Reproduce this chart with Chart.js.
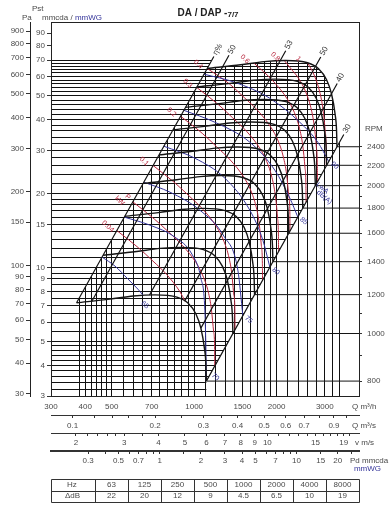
<!DOCTYPE html>
<html>
<head>
<meta charset="utf-8">
<script src="https://cdn.jsdelivr.net/npm/chart.js@4.4.1/dist/chart.umd.min.js"></script>
<style>
html,body{margin:0;padding:0;background:#fff;overflow:hidden;}
canvas{display:block;}
</style>
</head>
<body>
<canvas id="chart" width="391" height="515"></canvas>
<script>
// ================= DATA =================
// Axis tick values
const mmTicks = [3,4,5,6,7,8,9,10,15,20,30,40,50,60,70,80,90];
const paTicks = [30,40,50,60,70,80,90,100,150,200,300,400,500,600,700,800,900];
const flowTicks = [300,400,500,700,1000,1500,2000,3000];
const m3sTicks = [0.1,0.12,0.14,0.16,0.18,0.2,0.25,0.3,0.35,0.4,0.45,0.5,0.6,0.7,0.8,0.9,1.0];
const m3sLabels = [0.1,0.2,0.3,0.4,0.5,0.6,0.7,0.9];
const velTicks = [2,2.2,2.4,2.6,2.8,3,3.5,4,5,6,7,8,9,10,11,12,13,14,15,16,17,18,19,20];
const velLabels = [2,3,4,5,6,7,8,9,10,15,19];
const pdTicks = [0.3,0.4,0.5,0.6,0.7,0.8,0.9,1,1.5,2,3,4,5,6,7,8,9,10,15,20,25];
const pdLabels = [0.3,0.5,0.7,1,2,3,4,5,7,10,15,20];
const rpmTicks = [800,900,1000,1100,1200,1300,1400,1500,1600,1700,1800,1900,2000,2100,2200,2300,2400];
const rpmLabels = [800,1000,1200,1400,1600,1800,2000,2200,2400];

// background grid of the chart (mmH2O and m3/h)
const gridPressures = [3.2,3.4,3.6,3.8,4,4.2,4.4,4.6,4.8,5,5.5,6,6.5,7,7.5,8,8.5,9,9.5,10,11,12,13,14,15,16,17,18,19,20,22,24,26,28,30,32,34,36,38,40,42,44,46,48,50,52,54,56,58,60,62,64,66,68,70];
const gridFlows = [380,400,420,440,460,480,500,550,600,650,700,750,800,850,900,950,1000,1100,1200,1300,1400,1500,1600,1700,1800,1900,2000,2200,2400,2600,2800,3000,3200,3400];

// Fan curves [Q m3/h, Pst mmH2O] per RPM
const fanRpm = [800,1000,1200,1400,1600,1800,2000,2200,2400];
const fan800  = [[372,7.19],[493,7.44],[600,7.66],[720,7.74],[865,7.58],[949,7.17],[1015,6.47],[1058,5.67],[1090,4.70],[1104,4.01],[1108,3.45]];
const fan1000 = [[465,11.23],[616,11.63],[750,11.97],[900,12.09],[1081,11.84],[1186,11.20],[1269,10.11],[1323,8.86],[1363,7.34],[1380,6.27],[1385,5.39]];
const fan1200 = [[558,16.18],[740,16.74],[900,17.24],[1080,17.42],[1298,17.06],[1424,16.13],[1523,14.56],[1587,12.76],[1635,10.58],[1656,9.02],[1662,7.76]];
const fan1400 = [[651,22.02],[863,22.79],[1050,23.46],[1260,23.70],[1514,23.21],[1661,21.96],[1776,19.81],[1852,17.36],[1908,14.39],[1932,12.28],[1939,10.57]];
const fan1600 = [[744,28.76],[986,29.76],[1200,30.64],[1440,30.96],[1730,30.32],[1898,28.68],[2030,25.88],[2116,22.68],[2180,18.80],[2208,16.04],[2216,13.80]];
const fan1800 = [[837,36.40],[1109,37.67],[1350,38.78],[1620,39.18],[1946,38.37],[2135,36.30],[2284,32.75],[2381,28.70],[2453,23.79],[2484,20.30],[2493,17.47]];
const fan2000 = [[930,44.94],[1233,46.50],[1500,47.88],[1800,48.38],[2163,47.38],[2373,44.81],[2538,40.44],[2645,35.44],[2725,29.38],[2760,25.06],[2770,21.56]];
const fan2200 = [[1023,54.37],[1356,56.27],[1650,57.93],[1980,58.53],[2379,57.32],[2610,54.22],[2791,48.93],[2910,42.88],[2998,35.54],[3036,30.33],[3047,26.09]];
const fan2400 = [[1116,64.71],[1479,66.96],[1800,68.94],[2160,69.66],[2595,68.22],[2847,64.53],[3045,58.23],[3174,51.03],[3270,42.30],[3312,36.09],[3324,31.05]];

// Efficiency lines (eta %)
const effLabels = ['η%','50','53','50','40','30'];
const effEta = [[372,7.19],[1116,64.71],[1180,72.35]];
const eff50L = [[423,7.29],[1269,65.61],[1340,73.16]];
const eff53  = [[687,7.73],[2061,69.57],[2160,76.4]];
const eff50R = [[923,7.30],[2769,65.70],[2900,72.07]];
const eff40R = [[1058,5.67],[3174,51.03],[3330,56.17]];
const eff30R = [[1108,3.45],[3324,31.05],[3520,34.82]];

// Absorbed power lines (kW)
const powerLabels = ['0.04','','0.1','0.2','0.3','0.4','0.6','0.8','1'];
const pw004 = [[522,14.15],[627,12.02],[707,10.63],[793,9.38],[887,7.98],[928,7.27]];
const pw006 = [[597,18.52],[717,15.73],[809,13.92],[907,12.29],[1016,10.47],[1077,9.24],[1126,7.96],[1156,6.78],[1178,5.49],[1188,4.64],[1189,3.97]];
const pw01  = [[708,26.04],[850,22.14],[959,19.56],[1076,17.28],[1205,14.71],[1277,12.99],[1335,11.19],[1371,9.53],[1397,7.73],[1409,6.53],[1410,5.59]];
const pw02  = [[892,41.34],[1072,35.16],[1208,31.04],[1355,27.42],[1518,23.35],[1610,20.62],[1682,17.77],[1728,15.12],[1760,12.26],[1775,10.37],[1777,8.88]];
const pw03  = [[1021,54.18],[1227,46.05],[1383,40.70],[1552,35.94],[1738,30.59],[1842,27.01],[1924,23.26],[1977,19.81],[2015,16.07],[2031,13.58],[2034,11.63]];
const pw04  = [[1116,64.71],[1350,55.78],[1522,49.30],[1708,43.55],[1913,37.05],[2028,32.75],[2118,28.18],[2176,23.99],[2218,19.46],[2237,16.46],[2239,14.09]];
const pw06  = [[1653,68.04],[1742,64.60],[1955,57.05],[2189,48.56],[2321,42.90],[2425,36.92],[2492,31.45],[2540,25.52],[2560,21.57],[2563,18.46]];
const pw08  = [[2136,69.6],[2280,63.66],[2410,58.84],[2555,51.96],[2669,44.75],[2742,38.09],[2795,30.90],[2817,26.12],[2821,22.36]];
const pw1   = [[2595,68.22],[2675,64.36],[2752,60.30],[2875,51.93],[2954,44.20],[3011,35.86],[3035,30.30],[3039,25.96]];

// Sound power lines LwA dB(A)
const soundLabels = ['65','70','75','80','85','90'];
const lw65 = [[461,11.03],[514,10.14],[573,8.98],[623,8.17],[650,7.73]];
const lw70 = [[556,16.05],[689,14.89],[850,13.31],[981,11.35],[1058,9.06],[1094,6.71],[1104,4.62],[1108,3.45]];
const lw75 = [[655,22.27],[816,20.28],[1049,17.13],[1284,13.43],[1444,9.77],[1506,6.37]];
const lw80 = [[775,31.2],[1006,27.89],[1295,23.12],[1597,17.13],[1782,12.94],[1890,10.04]];
const lw85 = [[917,43.7],[1190,39.07],[1597,32.4],[1971,24.92],[2236,19.18],[2391,16.07]];
const lw90 = [[1086,61.3],[1408,56.8],[1890,48.9],[2431,39.07],[2829,32.4],[3102,27.04]];

// Octave-band correction table
const hzBands = ['63','125','250','500','1000','2000','4000','8000'];
const deltaDb = ['22','20','12','9','4.5','6.5','10','19'];

// ================= unit relations for secondary axes =================
const Q_MIN = 300, Q_MAX = 4000, P_MIN = 3, P_MAX = 100;
const PA_PER_MM = 9.81;
const OUTLET_AREA = 0.0514;   // m2
const RHO = 1.2;
const vel = q => q / 3600 / OUTLET_AREA;
const pdyn = q => RHO * vel(q) * vel(q) / 2 / 9.81;
const rpmAtP = p => fanRpm[0] * Math.sqrt(p / fan800[fan800.length - 1][1]);

// ================= styles =================
const FONT_FAMILY = "'Liberation Sans', Arial, sans-serif";
const TXT = '#4a4a4a';
const BLACK = '#141414';
const GRID = '#111';
const RED = '#b8283f';
const BLUE = '#34349a';
Chart.defaults.font.family = FONT_FAMILY;
Chart.defaults.font.size = 8;
Chart.defaults.color = TXT;

// clip polygons for the grid (built from the envelope curves)
const clipPolys = {
  gy: [[Q_MIN, P_MIN], [Q_MIN, effEta[2][1]], effEta[2], ...fan2400, eff30R[0], [eff30R[0][0], P_MIN]],
  gx: [[effEta[0][0], P_MIN], effEta[0], ...fan2400, eff30R[2], [eff30R[2][0], P_MIN]]
};

class ClippedLogScale extends Chart.LogarithmicScale {
  drawGrid(area) {
    const poly = clipPolys[this.id];
    const ctx = this.ctx;
    const xs = this.chart.scales.x, ys = this.chart.scales.y;
    ctx.save();
    if (poly) {
      ctx.beginPath();
      poly.forEach(([q, p], i) => {
        const X = xs.getPixelForValue(q), Y = ys.getPixelForValue(p);
        if (i) ctx.lineTo(X, Y); else ctx.moveTo(X, Y);
      });
      ctx.closePath();
      ctx.clip();
    }
    super.drawGrid(area);
    ctx.restore();
  }
}
ClippedLogScale.id = 'clippedLog';
Chart.register(ClippedLogScale);

const pts = arr => arr.map(([x, y]) => ({x, y}));
const lineDs = (arr, color, width, smooth) => ({
  data: pts(arr), showLine: true, pointRadius: 0, pointHitRadius: 0,
  borderColor: color, borderWidth: width, fill: false,
  cubicInterpolationMode: smooth ? 'monotone' : 'default', tension: 0,
  xAxisID: 'x', yAxisID: 'y'
});

const fanCurves = [fan800, fan1000, fan1200, fan1400, fan1600, fan1800, fan2000, fan2200, fan2400];
const effLines = [effEta, eff50L, eff53, eff50R, eff40R, eff30R];
const powerCurves = [pw004, pw006, pw01, pw02, pw03, pw04, pw06, pw08, pw1];
const soundCurves = [lw65, lw70, lw75, lw80, lw85, lw90];

const datasets = [];
fanCurves.forEach(c => datasets.push(lineDs(c, BLACK, 1.4, true)));
effLines.forEach(c => datasets.push(lineDs(c, BLACK, 1.2, false)));
fanCurves.forEach(c => { const e = c[c.length - 1]; datasets.push(lineDs([e, [Q_MAX, e[1]]], BLACK, 1, false)); });
soundCurves.forEach(c => datasets.push(lineDs(c, BLUE, 1, true)));
powerCurves.forEach(c => datasets.push(lineDs(c, RED, 1, true)));

const setTicks = arr => s => { s.ticks = arr.map(v => ({value: v})); };
const labelIf = list => v => (list.some(l => Math.abs(l - v) < 1e-9) ? String(v) : '');
const tickFont = {size: 8, family: FONT_FAMILY};

function drawText(ctx, s, x, y, o = {}) {
  ctx.save();
  ctx.translate(x, y);
  if (o.rot) ctx.rotate(o.rot);
  ctx.font = o.font || ('8px ' + FONT_FAMILY);
  ctx.fillStyle = o.color || TXT;
  ctx.textAlign = o.align || 'left';
  ctx.textBaseline = o.base || 'middle';
  ctx.fillText(s, 0, 0);
  ctx.restore();
}

const decor = {
  id: 'decor',
  afterDraw(chart) {
    const ctx = chart.ctx, a = chart.chartArea;
    const sx = chart.scales.x, sy = chart.scales.y;
    const X = q => sx.getPixelForValue(q), Y = p => sy.getPixelForValue(p);
    ctx.save();
    // frame top
    ctx.strokeStyle = '#222'; ctx.lineWidth = 1;
    ctx.beginPath(); ctx.moveTo(a.left, Math.round(a.top) + 0.5); ctx.lineTo(a.right, Math.round(a.top) + 0.5); ctx.stroke();

    // title
    const cx = (a.left + a.right) / 2;
    ctx.font = 'bold 10px ' + FONT_FAMILY;
    const t1 = 'DA / DAP -', w1 = ctx.measureText(t1).width;
    ctx.font = 'bold 8px ' + FONT_FAMILY;
    const t2 = '7/7', w2 = ctx.measureText(t2).width;
    const tx = cx - (w1 + w2) / 2 + 3;
    drawText(ctx, t1, tx, a.top - 9, {font: 'bold 10px ' + FONT_FAMILY, color: '#222'});
    drawText(ctx, t2, tx + w1, a.top - 7, {font: 'bold 8px ' + FONT_FAMILY, color: '#222'});

    // left axis headers
    drawText(ctx, 'Pst', 32, a.top - 13, {});
    drawText(ctx, 'Pa', 22, a.top - 4, {});
    drawText(ctx, 'mmcda / ', 42, a.top - 4, {});
    ctx.font = '8px ' + FONT_FAMILY;
    const wm = ctx.measureText('mmcda / ').width;
    drawText(ctx, 'mmWG', 42 + wm, a.top - 4, {color: BLUE});

    // RPM header
    const yr = chart.scales.yR;
    drawText(ctx, 'RPM', a.right + 6, yr.getPixelForValue(2400) - 18, {});

    // bottom axis units
    drawText(ctx, 'Q m³/h', a.right - 7, sx.top + 11, {});
    drawText(ctx, 'Q m³/s', a.right - 7, chart.scales.xs.top + 11, {});
    drawText(ctx, 'v m/s', a.right - 4, chart.scales.xv.top + 10, {});
    drawText(ctx, 'Pd mmcda', a.right - 9, chart.scales.xp.top + 10, {});
    drawText(ctx, 'mmWG', a.right + 22, chart.scales.xp.top + 18, {color: BLUE, align: 'right'});

    // efficiency labels
    effLines.forEach((c, i) => {
      const e = c[c.length - 1];
      drawText(ctx, effLabels[i], X(e[0]) + 1, Y(e[1]) - 2, {rot: -1.05, font: '8px ' + FONT_FAMILY, color: '#333'});
    });
    // power labels
    powerCurves.forEach((c, i) => {
      if (!powerLabels[i]) return;
      const s = c[0];
      drawText(ctx, powerLabels[i], X(s[0]) - 9, Y(s[1]) - 4, {rot: 0.75, align: 'center', font: '7px ' + FONT_FAMILY, color: RED});
    });
    const pS = pw006[0];
    drawText(ctx, 'P', X(pS[0]) - 5, Y(pS[1]) - 5, {rot: 0.75, align: 'center', font: '7px ' + FONT_FAMILY, color: RED});
    drawText(ctx, 'kW', X(pS[0]) - 13, Y(pS[1]) - 1, {rot: 0.75, align: 'center', font: '7px ' + FONT_FAMILY, color: RED});
    // sound labels
    soundCurves.forEach((c, i) => {
      const e = c[c.length - 1];
      let dx = 6, dy = 4;
      if (i === 0) { dx = 2; dy = 10; }
      if (i === 1) { dx = 9; dy = -4; }
      drawText(ctx, soundLabels[i], X(e[0]) + dx, Y(e[1]) + dy, {rot: 0.7, align: 'center', font: '7px ' + FONT_FAMILY, color: BLUE});
    });
    const sA = lw85[lw85.length - 1], sB = lw90[lw90.length - 1];
    const smx = (X(sA[0]) + X(sB[0])) / 2, smy = (Y(sA[1]) + Y(sB[1])) / 2;
    drawText(ctx, 'LwA', smx + 9, smy - 1, {rot: 0.7, align: 'center', font: '7px ' + FONT_FAMILY, color: BLUE});
    drawText(ctx, 'dB(A)', smx + 11, smy + 8, {rot: 0.7, align: 'center', font: '7px ' + FONT_FAMILY, color: BLUE});

    // table
    const tTop = chart.scales.xp.bottom + 11, rowH = 11.5;
    const c0 = 44, cw = (a.right - a.left - c0) / hzBands.length;
    ctx.strokeStyle = '#333'; ctx.lineWidth = 1;
    const L = Math.round(a.left) + 0.5, R = Math.round(a.right) + 0.5;
    const T = Math.round(tTop) + 0.5, M = Math.round(tTop + rowH) + 0.5, B = Math.round(tTop + 2 * rowH) + 0.5;
    ctx.beginPath();
    ctx.moveTo(L, T); ctx.lineTo(R, T); ctx.moveTo(L, M); ctx.lineTo(R, M); ctx.moveTo(L, B); ctx.lineTo(R, B);
    ctx.moveTo(L, T); ctx.lineTo(L, B); ctx.moveTo(R, T); ctx.lineTo(R, B);
    for (let i = 0; i < hzBands.length; i++) {
      const xx = Math.round(a.left + c0 + i * cw) + 0.5;
      ctx.moveTo(xx, T); ctx.lineTo(xx, B);
    }
    ctx.stroke();
    drawText(ctx, 'Hz', a.left + 16, tTop + rowH / 2, {});
    drawText(ctx, 'ΔdB', a.left + 14, tTop + rowH * 1.5, {});
    hzBands.forEach((h, i) => {
      const xc = a.left + c0 + (i + 0.5) * cw;
      drawText(ctx, h, xc, tTop + rowH / 2, {align: 'center'});
      drawText(ctx, deltaDb[i], xc, tTop + rowH * 1.5, {align: 'center'});
    });
    ctx.restore();
  }
};

new Chart(document.getElementById('chart'), {
  type: 'scatter',
  data: {datasets},
  options: {
    responsive: false,
    devicePixelRatio: 1,
    animation: false,
    layout: {padding: {top: 22, bottom: 47, left: 0, right: 0}},
    plugins: {legend: {display: false}, tooltip: {enabled: false}, title: {display: false}},
    scales: {
      x: {
        type: 'logarithmic', position: 'bottom', min: Q_MIN, max: Q_MAX, weight: 0, bounds: 'data',
        grid: {drawOnChartArea: false, drawTicks: false},
        border: {color: '#222', width: 1},
        ticks: {autoSkip: false, maxRotation: 0, padding: 6, font: tickFont, color: TXT, callback: labelIf(flowTicks)},
        afterBuildTicks: setTicks(flowTicks),
        afterFit: s => { s.height = 19; }
      },
      xs: {
        type: 'logarithmic', axis: 'x', position: 'bottom', min: Q_MIN / 3600, max: Q_MAX / 3600, weight: 1, bounds: 'data',
        grid: {drawOnChartArea: false, drawTicks: true, tickLength: 3, color: '#333', tickColor: '#333'},
        border: {color: '#333', width: 1},
        ticks: {autoSkip: false, maxRotation: 0, padding: 3, font: tickFont, color: TXT, callback: labelIf(m3sLabels)},
        afterBuildTicks: setTicks(m3sTicks),
        afterFit: s => { s.height = 18; }
      },
      xv: {
        type: 'logarithmic', axis: 'x', position: 'bottom', min: vel(Q_MIN), max: vel(Q_MAX), weight: 2, bounds: 'data',
        grid: {drawOnChartArea: false, drawTicks: true, tickLength: 3, color: '#333', tickColor: '#333'},
        border: {color: '#333', width: 1},
        ticks: {autoSkip: false, maxRotation: 0, padding: 2, font: tickFont, color: TXT, callback: labelIf(velLabels)},
        afterBuildTicks: setTicks(velTicks),
        afterFit: s => { s.height = 18; }
      },
      xp: {
        type: 'logarithmic', axis: 'x', position: 'bottom', min: pdyn(Q_MIN), max: pdyn(Q_MAX), weight: 3, bounds: 'data',
        grid: {drawOnChartArea: false, drawTicks: true, tickLength: 3, color: '#333', tickColor: '#333'},
        border: {color: '#333', width: 2},
        ticks: {autoSkip: false, maxRotation: 0, padding: 2, font: tickFont, color: TXT, callback: labelIf(pdLabels)},
        afterBuildTicks: setTicks(pdTicks),
        afterFit: s => { s.height = 17; }
      },
      gx: {
        type: 'clippedLog', axis: 'x', position: 'bottom', min: Q_MIN, max: Q_MAX, weight: 9, bounds: 'data',
        grid: {drawOnChartArea: true, drawTicks: false, color: GRID, lineWidth: 1},
        border: {display: false},
        ticks: {display: false, autoSkip: false},
        afterBuildTicks: setTicks(gridFlows),
        afterFit: s => { s.height = 0; }
      },
      y: {
        type: 'logarithmic', position: 'left', min: P_MIN, max: P_MAX, weight: 1, bounds: 'data',
        grid: {drawOnChartArea: false, drawTicks: true, tickLength: 4, color: '#333', tickColor: '#333'},
        border: {color: '#222', width: 1},
        ticks: {autoSkip: false, padding: 2, font: tickFont, color: TXT, callback: labelIf(mmTicks)},
        afterBuildTicks: setTicks(mmTicks),
        afterFit: s => { s.width = 21; }
      },
      yPa: {
        type: 'logarithmic', axis: 'y', position: 'left', min: P_MIN * PA_PER_MM, max: P_MAX * PA_PER_MM, weight: 2, bounds: 'data',
        grid: {drawOnChartArea: false, drawTicks: true, tickLength: 4, color: '#333', tickColor: '#333'},
        border: {color: '#222', width: 1},
        ticks: {autoSkip: false, padding: 2, font: tickFont, color: TXT, callback: labelIf(paTicks)},
        afterBuildTicks: setTicks(paTicks),
        afterFit: s => { s.width = 30; }
      },
      gy: {
        type: 'clippedLog', axis: 'y', position: 'left', min: P_MIN, max: P_MAX, weight: 0, bounds: 'data',
        grid: {drawOnChartArea: true, drawTicks: false, color: GRID, lineWidth: 1},
        border: {display: false},
        ticks: {display: false, autoSkip: false},
        afterBuildTicks: setTicks(gridPressures),
        afterFit: s => { s.width = 0; }
      },
      yR: {
        type: 'logarithmic', axis: 'y', position: 'right', min: rpmAtP(P_MIN), max: rpmAtP(P_MAX), bounds: 'data',
        grid: {drawOnChartArea: false, drawTicks: true, tickLength: 3, color: '#333', tickColor: '#333'},
        border: {color: '#222', width: 1},
        ticks: {autoSkip: false, padding: 5, font: tickFont, color: TXT, callback: labelIf(rpmLabels)},
        afterBuildTicks: setTicks(rpmTicks),
        afterFit: s => { s.width = 32; }
      }
    }
  },
  plugins: [decor]
});
</script>
</body>
</html>
